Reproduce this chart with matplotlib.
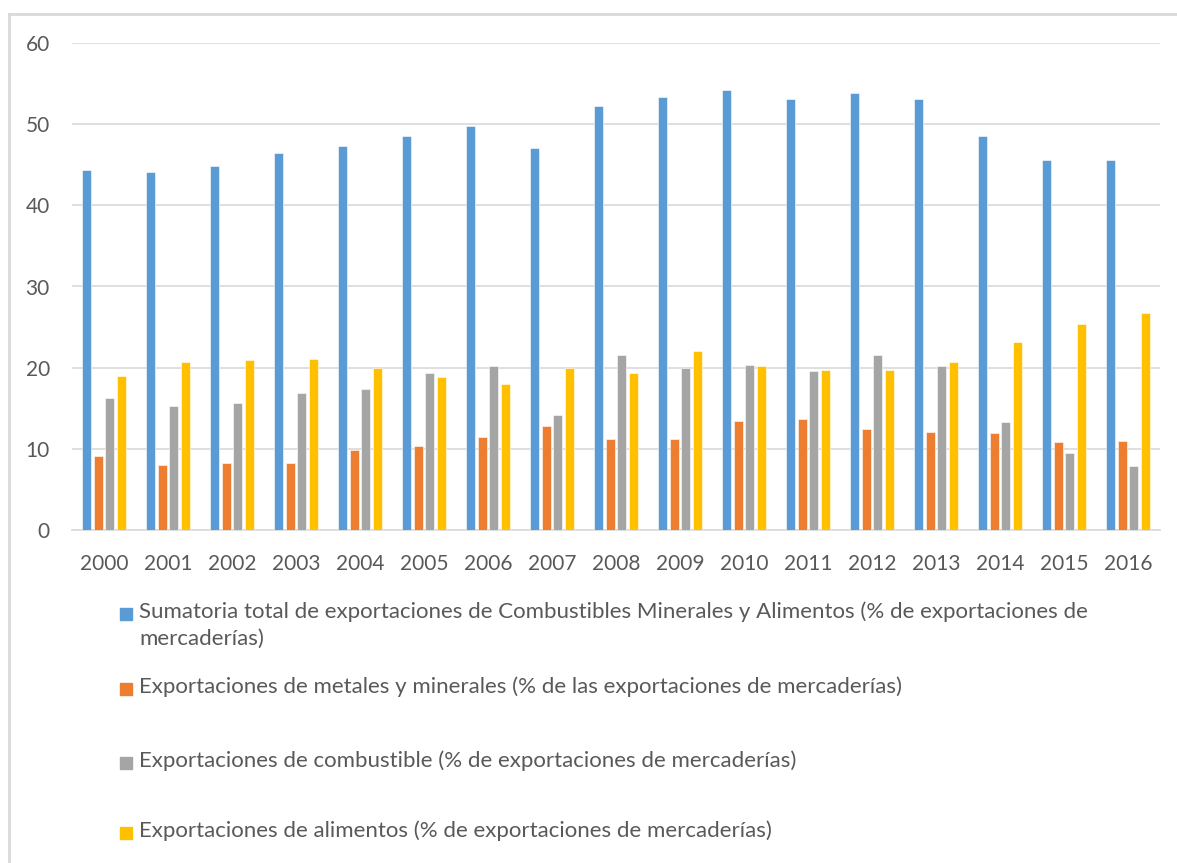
import matplotlib.pyplot as plt
import matplotlib.patches as mpatches
import numpy as np

plt.rcParams['font.family'] = ['Lato', 'DejaVu Sans']

years = ['2000', '2001', '2002', '2003', '2004', '2005', '2006', '2007', '2008',
         '2009', '2010', '2011', '2012', '2013', '2014', '2015', '2016']

total = [44.4, 44.1, 44.9, 46.5, 47.3, 48.5, 49.8, 47.1, 52.2,
         53.3, 54.2, 53.1, 53.9, 53.1, 48.5, 45.6, 45.6]
metales = [9.1, 8.0, 8.2, 8.2, 9.8, 10.3, 11.5, 12.8, 11.2,
           11.2, 13.4, 13.7, 12.5, 12.1, 12.0, 10.9, 11.0]
combustible = [16.3, 15.3, 15.6, 16.9, 17.4, 19.4, 20.2, 14.2, 21.5,
               19.9, 20.3, 19.6, 21.5, 20.2, 13.3, 9.5, 7.9]
alimentos = [19.0, 20.7, 20.9, 21.1, 20.0, 18.8, 18.0, 20.0, 19.3,
             22.1, 20.2, 19.7, 19.7, 20.7, 23.2, 25.4, 26.7]

etiquetas = [
    'Sumatoria total de exportaciones de Combustibles Minerales y Alimentos (% de exportaciones de\nmercaderías)',
    'Exportaciones de metales y minerales (% de las exportaciones de mercaderías)',
    'Exportaciones de combustible (% de exportaciones de mercaderías)',
    'Exportaciones de alimentos (% de exportaciones de mercaderías)',
]
colores = ['#5B9BD5', '#ED7D31', '#A5A5A5', '#FFC000']
series = [total, metales, combustible, alimentos]

W, H = 1177, 863
fig = plt.figure(figsize=(W / 100, H / 100), dpi=100)
ax = fig.add_axes([72 / W, 1 - 530 / H, (1160 - 72) / W, (530 - 43) / H])

x = np.arange(len(years))
ancho = 0.145
paso = 0.181
for i, (vals, col) in enumerate(zip(series, colores)):
    ax.bar(x + (i - 1.5) * paso, vals, width=ancho, color=col,
           edgecolor='white', linewidth=0.4, zorder=3)

ax.set_xlim(-0.5, len(years) - 0.5)
ax.set_ylim(0, 60)
ax.set_yticks(range(0, 61, 10))
ax.set_xticks(x)
ax.set_xticklabels(years)
ax.grid(axis='y', color='#d9d9d9', linewidth=1.2, zorder=0)
for s in ['top', 'right', 'left']:
    ax.spines[s].set_visible(False)
ax.spines['bottom'].set_color('#d9d9d9')
ax.spines['bottom'].set_linewidth(1.2)
ax.tick_params(length=0, labelsize=15, colors='#595959')
ax.tick_params(axis='x', pad=17)
ax.tick_params(axis='y', pad=16)

# leyenda manual debajo del gráfico
pos_y = [614, 689, 763, 833]
for lab, col, py in zip(etiquetas, colores, pos_y):
    fig.patches.append(mpatches.Rectangle((120 / W, 1 - (py + 6) / H), 12 / W, 12 / H,
                                          transform=fig.transFigure, color=col))
    fig.text(139 / W, 1 - (py - 13) / H, lab, ha='left', va='top',
             fontsize=16, color='#595959', linespacing=1.45)

# marco del área del gráfico
fig.add_artist(plt.Line2D([9 / W, 9 / W], [0, 1 - 14 / H], color='#d9d9d9', lw=2,
                          transform=fig.transFigure))
fig.add_artist(plt.Line2D([9 / W, 1], [1 - 14 / H, 1 - 14 / H], color='#d9d9d9', lw=2,
                          transform=fig.transFigure))

fig.savefig('out.png', dpi=100)
